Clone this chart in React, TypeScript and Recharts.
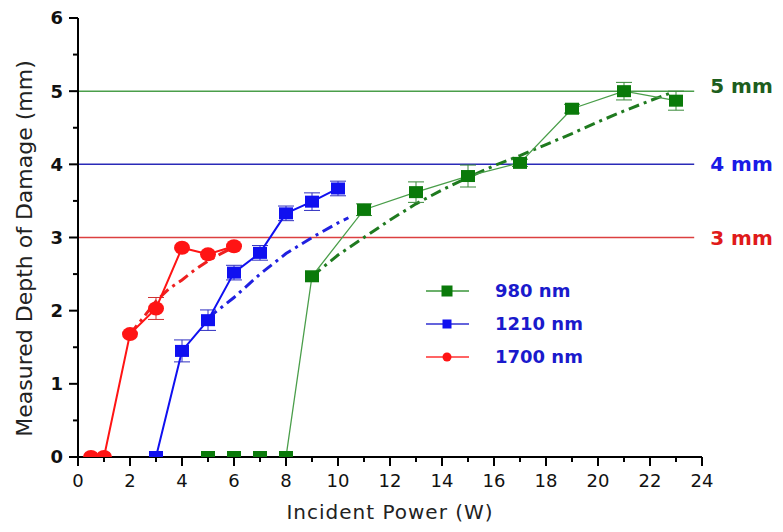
import React from 'react';
import { LineChart, Line, XAxis, YAxis, ReferenceLine, ErrorBar, Legend } from 'recharts';

// measured points (W, mm, error)
const power980 = [5, 6, 7, 8, 9, 11, 13, 15, 17, 19, 21, 23];
const depth980 = [0, 0, 0, 0, 2.47, 3.38, 3.62, 3.84, 4.02, 4.76, 5.0, 4.87];
const err980 = [0, 0, 0, 0, 0, 0.08, 0.14, 0.15, 0.05, 0.06, 0.12, 0.13];

const power1210 = [3, 4, 5, 6, 7, 8, 9, 10];
const depth1210 = [0, 1.45, 1.87, 2.52, 2.79, 3.33, 3.49, 3.67];
const err1210 = [0, 0.15, 0.14, 0.1, 0.1, 0.1, 0.12, 0.1];

const power1700 = [0.5, 1, 2, 3, 4, 5, 6];
const depth1700 = [0, 0, 1.68, 2.03, 2.86, 2.77, 2.88];
const err1700 = [0, 0, 0, 0.15, 0, 0, 0];

// fitted trend lines (dash-dot)
const fitX980 = [9, 10, 11, 12, 13, 14, 15, 16, 17, 18, 19, 20, 21, 22, 22.9];
const fitY980 = [2.47, 2.76, 3.0, 3.24, 3.46, 3.65, 3.82, 3.98, 4.12, 4.27, 4.42, 4.58, 4.73, 4.87, 4.99];
const fitX1210 = [5, 6, 7, 8, 9, 10, 10.4];
const fitY1210 = [1.9, 2.18, 2.5, 2.78, 3.0, 3.2, 3.27];
const fitX1700 = [2, 2.5, 3, 3.5, 4, 4.5, 5, 5.5, 6];
const fitY1700 = [1.68, 1.9, 2.13, 2.3, 2.42, 2.56, 2.68, 2.78, 2.87];

const refDepths = [5, 4, 3];
const refLabels = ['5 mm', '4 mm', '3 mm'];
const refEnd = 23.7;

const legendNames = ['980 nm', '1210 nm', '1700 nm'];

const xTicks = [0, 1, 2, 3, 4, 5, 6, 7, 8, 9, 10, 11, 12, 13, 14, 15, 16, 17, 18, 19, 20, 21, 22, 23, 24];
const yTicks = [0, 0.5, 1, 1.5, 2, 2.5, 3, 3.5, 4, 4.5, 5, 5.5, 6];

const FONT = "'DejaVu Sans', Arial, sans-serif";

const GREEN = '#0a7a0a';
const BLUE = '#1010f0';
const RED = '#ff1414';
const refColors = ['#4a9e4a', '#2a2ab8', '#dc4040'];
const refTextColors = ['#1d5e1d', '#1a1ae6', '#e01a1a'];
const refDy = [-5, -1, 0];

const toPoints = (xs: number[], ys: number[], errs?: number[]) =>
  xs.map((x, i) => ({ x, y: ys[i], err: errs ? errs[i] : 0 }));

const data980 = toPoints(power980, depth980, err980);
const data1210 = toPoints(power1210, depth1210, err1210);
const data1700 = toPoints(power1700, depth1700, err1700);
const fit980 = toPoints(fitX980, fitY980);
const fit1210 = toPoints(fitX1210, fitY1210);
const fit1700 = toPoints(fitX1700, fitY1700);

const squareDot = (w: number, h: number, fill: string) => (props: any) => {
  const { cx, cy, index } = props;
  if (cx == null || cy == null) return <g key={`e-${index}`} />;
  return <rect key={`sq-${index}`} x={cx - w / 2} y={cy - h / 2} width={w} height={h} fill={fill} />;
};

const circleDot = (rx: number, ry: number, fill: string) => (props: any) => {
  const { cx, cy, index } = props;
  if (cx == null || cy == null) return <g key={`e-${index}`} />;
  return <ellipse key={`c-${index}`} cx={cx} cy={cy} rx={rx} ry={ry} fill={fill} />;
};

const XTick = (props: any) => {
  const { x, y, payload } = props;
  const major = payload.value % 2 === 0;
  return (
    <g>
      <line x1={x} x2={x} y1={y} y2={y + (major ? 9 : 5)} stroke="#000" strokeWidth={2} />
      {major && (
        <text x={x} y={y + 30} textAnchor="middle" fontSize={18} fontFamily={FONT} fill="#111">
          {payload.value}
        </text>
      )}
    </g>
  );
};

const YTick = (props: any) => {
  const { x, y, payload } = props;
  const major = Number.isInteger(payload.value);
  return (
    <g>
      <line x1={x} x2={x - (major ? 9 : 5)} y1={y} y2={y} stroke="#000" strokeWidth={2} />
      {major && (
        <text x={x - 15} y={y} dy="0.36em" textAnchor="end" fontSize={18} fontWeight="bold" fontFamily={FONT} fill="#111">
          {payload.value}
        </text>
      )}
    </g>
  );
};

const legendStyles = [
  { color: GREEN, line: '#3a963a', shape: 'square', size: 11 },
  { color: BLUE, line: '#3030d0', shape: 'square', size: 9 },
  { color: RED, line: '#ff3030', shape: 'circle', size: 9 },
];

const LegendBox = () => (
  <div style={{ fontFamily: FONT }}>
    {legendNames.map((name, i) => {
      const s = legendStyles[i];
      return (
        <div key={name} style={{ display: 'flex', alignItems: 'center', height: 33 }}>
          <svg width={50} height={20}>
            <line x1={3} x2={46} y1={10} y2={10} stroke={s.line} strokeWidth={1.5} />
            {s.shape === 'square' ? (
              <rect x={24 - s.size / 2} y={10 - s.size / 2} width={s.size} height={s.size} fill={s.color} />
            ) : (
              <circle cx={24} cy={10} r={s.size / 2} fill={s.color} />
            )}
          </svg>
          <span style={{ marginLeft: 22, fontWeight: 'bold', fontSize: 18, color: '#1a1acc' }}>{name}</span>
        </div>
      );
    })}
  </div>
);

const dashDot = '11 5 3 5';

export default function App() {
  return (
    <LineChart
      width={775}
      height={524}
      margin={{ top: 10, right: 81, bottom: 15, left: 30 }}
      style={{ overflow: 'visible' }}
    >
      <XAxis
        type="number"
        dataKey="x"
        domain={[0, 24]}
        ticks={xTicks}
        interval={0}
        tickSize={0}
        tickMargin={0}
        tickLine={false}
        tick={XTick}
        height={60}
        axisLine={{ stroke: '#000', strokeWidth: 2 }}
        label={(p: any) => {
          const vb = p.viewBox;
          return (
            <text
              x={vb.x + vb.width / 2}
              y={vb.y + 62}
              textAnchor="middle"
              fontSize={20}
              letterSpacing={1}
              fontFamily={FONT}
              fill="#222"
            >
              Incident Power (W)
            </text>
          );
        }}
      />
      <YAxis
        type="number"
        dataKey="y"
        domain={[0, 6]}
        ticks={yTicks}
        interval={0}
        allowDataOverflow
        tickSize={0}
        tickMargin={0}
        tickLine={false}
        tick={YTick}
        width={40}
        axisLine={{ stroke: '#000', strokeWidth: 2 }}
        label={(p: any) => {
          const vb = p.viewBox;
          const cx = vb.x - 6;
          const cy = vb.y + vb.height / 2 + 11;
          return (
            <text
              x={cx}
              y={cy}
              transform={`rotate(-90, ${cx}, ${cy})`}
              textAnchor="middle"
              fontSize={22}
              fontFamily={FONT}
              fill="#222"
            >
              Measured Depth of Damage (mm)
            </text>
          );
        }}
      />
      {refDepths.map((d, i) => (
        <ReferenceLine
          key={`ref-${d}`}
          segment={[{ x: 0, y: d }, { x: refEnd, y: d }]}
          stroke={refColors[i]}
          strokeWidth={1.5}
          label={(p: any) => {
            const vb = p.viewBox;
            return (
              <text
                x={vb.x + vb.width + 16}
                y={vb.y + refDy[i]}
                dy="0.36em"
                fontSize={20}
                fontWeight="bold"
                fontFamily={FONT}
                fill={refTextColors[i]}
              >
                {refLabels[i]}
              </text>
            );
          }}
        />
      ))}
      <Line data={fit980} dataKey="y" type="linear" stroke="#1f7a1f" strokeWidth={3} strokeDasharray={dashDot} dot={false} legendType="none" isAnimationActive={false} />
      <Line data={fit1210} dataKey="y" type="linear" stroke="#2020e0" strokeWidth={3} strokeDasharray={dashDot} dot={false} legendType="none" isAnimationActive={false} />
      <Line data={fit1700} dataKey="y" type="linear" stroke="#ee2020" strokeWidth={3} strokeDasharray={dashDot} dot={false} legendType="none" isAnimationActive={false} />
      <Line
        name="980 nm"
        data={data980}
        dataKey="y"
        type="linear"
        stroke="#4a9e4a"
        strokeWidth={1.3}
        dot={squareDot(14, 12, GREEN)}
        isAnimationActive={false}
      >
        <ErrorBar dataKey="err" direction="y" width={8} stroke="#3a8a3a" strokeWidth={1} />
      </Line>
      <Line
        name="1210 nm"
        data={data1210}
        dataKey="y"
        type="linear"
        stroke={BLUE}
        strokeWidth={2}
        dot={squareDot(14, 12, BLUE)}
        isAnimationActive={false}
      >
        <ErrorBar dataKey="err" direction="y" width={8} stroke="#3030c0" strokeWidth={1} />
      </Line>
      <Line
        name="1700 nm"
        data={data1700}
        dataKey="y"
        type="linear"
        stroke={RED}
        strokeWidth={2}
        dot={circleDot(8, 7, RED)}
        isAnimationActive={false}
      >
        <ErrorBar dataKey="err" direction="y" width={8} stroke="#d03030" strokeWidth={1} />
      </Line>
      <Legend
        layout="horizontal"
        verticalAlign="middle"
        align="center"
        wrapperStyle={{ left: 415, top: 266, width: 200 }}
        content={LegendBox}
      />
    </LineChart>
  );
}
